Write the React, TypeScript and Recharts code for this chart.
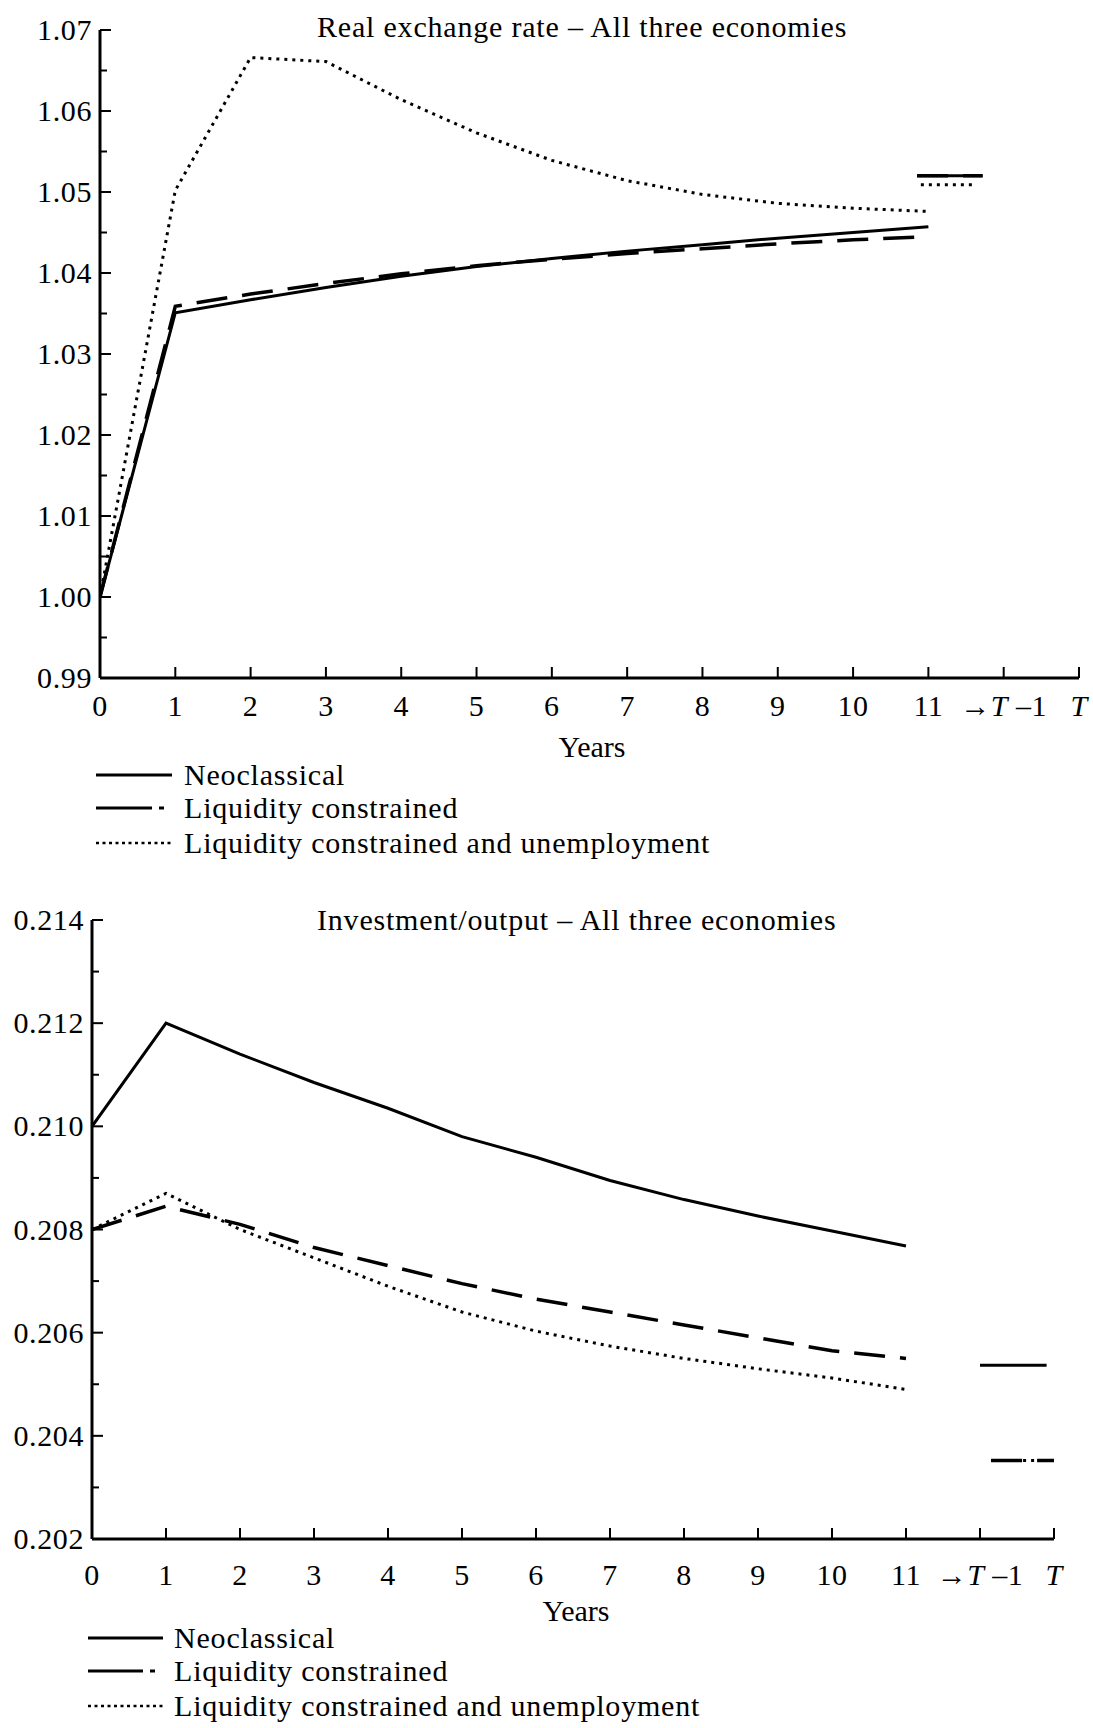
import React from 'react';
import { LineChart, Line, XAxis, YAxis } from 'recharts';

// ---------- shared axis data ----------
const yearTicks = [0, 1, 2, 3, 4, 5, 6, 7, 8, 9, 10, 11, 12, 13];
const yearLabels = ['0', '1', '2', '3', '4', '5', '6', '7', '8', '9', '10', '11', '→T –1', 'T'];
const years = [0, 1, 2, 3, 4, 5, 6, 7, 8, 9, 10, 11];

// ---------- Real exchange rate ----------
const rerNeo = [1.0, 1.0351, 1.0367, 1.0382, 1.0396, 1.0408, 1.0418, 1.0427, 1.0435, 1.0443, 1.045, 1.0457];
const rerLiq = [1.0, 1.0359, 1.0374, 1.0387, 1.0399, 1.0409, 1.0417, 1.0424, 1.043, 1.0436, 1.0441, 1.0445];
const rerLiqU = [1.0, 1.0502, 1.0666, 1.0661, 1.0614, 1.0573, 1.0539, 1.0514, 1.0497, 1.0486, 1.048, 1.0476];
// terminal (T-1 -> T) values, at the x positions where they are drawn
const rerTermX = [10.85, 11.72];
const rerTermXU = [10.9, 11.58];
const rerTermNeo = 1.052;
const rerTermLiq = 1.052;
const rerTermLiqU = 1.0509;
const rerTicks = [0.99, 0.995, 1.0, 1.005, 1.01, 1.015, 1.02, 1.025, 1.03, 1.035, 1.04, 1.045, 1.05, 1.055, 1.06, 1.065, 1.07];

// ---------- Investment / output ----------
const ioNeo = [0.21, 0.212, 0.2114, 0.21085, 0.21035, 0.2098, 0.2094, 0.20895, 0.20858, 0.20826, 0.20797, 0.20768];
const ioLiq = [0.208, 0.20845, 0.2081, 0.20765, 0.2073, 0.20695, 0.20665, 0.2064, 0.20615, 0.2059, 0.20565, 0.2055];
const ioLiqU = [0.208, 0.2087, 0.208, 0.20745, 0.2069, 0.2064, 0.20603, 0.20574, 0.2055, 0.2053, 0.20512, 0.2049];
const ioTermX = [12.0, 12.9];
const ioTermXL = [12.15, 13.0];
const ioTermNeo = 0.20537;
const ioTermLiq = 0.20352;
const ioTermLiqU = 0.20352;
const ioTicks = [0.202, 0.203, 0.204, 0.205, 0.206, 0.207, 0.208, 0.209, 0.21, 0.211, 0.212, 0.213, 0.214];

const legendLabels = ['Neoclassical', 'Liquidity constrained', 'Liquidity constrained and unemployment'];

const FONT = '"Liberation Serif", "Times New Roman", serif';
const FS = 30;

const rerRows = years.map((x, i) => ({ x, neo: rerNeo[i], liq: rerLiq[i], liqU: rerLiqU[i] }));
const ioRows = years.map((x, i) => ({ x, neo: ioNeo[i], liq: ioLiq[i], liqU: ioLiqU[i] }));
const seg = (xs: number[], v: number) => xs.map((x) => ({ x, v }));

const makeXTick = (labelOffset: number) => (p: any) => {
  const { x, y, payload } = p;
  const idx = yearTicks.indexOf(payload.value);
  const label = idx >= 0 ? yearLabels[idx] : String(payload.value);
  const parts = label.split(/(T)/).filter((s) => s.length > 0);
  return (
    <g>
      <line x1={x} y1={y} x2={x} y2={y - 11} stroke="#000" strokeWidth={2} />
      <text x={x} y={y + labelOffset} textAnchor="middle" fontFamily={FONT} fontSize={FS} fill="#000" letterSpacing={0.5}>
        {parts.map((s, i) => (
          <tspan key={i} fontStyle={s === 'T' ? 'italic' : 'normal'}>
            {s}
          </tspan>
        ))}
      </text>
    </g>
  );
};
const rerXTick = makeXTick(38);
const ioXTick = makeXTick(46);

const makeYTick = (decimals: number, isMajor: (v: number) => boolean) => (p: any) => {
  const { x, y, payload } = p;
  const v = payload.value as number;
  const major = isMajor(v);
  return (
    <g>
      <line x1={x} y1={y} x2={x + (major ? 11 : 7)} y2={y} stroke="#000" strokeWidth={2} />
      {major && (
        <text x={x - 8} y={y + 10} textAnchor="end" fontFamily={FONT} fontSize={FS} fill="#000" letterSpacing={0.6}>
          {v.toFixed(decimals)}
        </text>
      )}
    </g>
  );
};

const rerYTick = makeYTick(2, (v) => Math.round(v * 1000) % 10 === 0);
const ioYTick = makeYTick(3, (v) => Math.round(v * 1000) % 2 === 0);

const SOLID = { stroke: '#000', strokeWidth: 3 };
const DASHED = { stroke: '#000', strokeWidth: 3.5, strokeDasharray: '31 15' };
const DOTTED = { stroke: '#000', strokeWidth: 3, strokeDasharray: '3 5' };

function Legend({ top, left, textLeft, lineLen }: { top: number; left: number; textLeft: number; lineLen: number }) {
  const lineYs = [0, 33, 68];
  const textYs = [10, 43, 78];
  return (
    <svg style={{ position: 'absolute', left: 0, top: top - 20, overflow: 'visible' }} width={1093} height={110}>
      <g transform="translate(0,20)">
        <line x1={left} x2={left + lineLen} y1={lineYs[0]} y2={lineYs[0]} stroke="#000" strokeWidth={3} />
        <line x1={left} x2={left + lineLen - 20} y1={lineYs[1]} y2={lineYs[1]} stroke="#000" strokeWidth={3} />
        <line x1={left + lineLen - 13} x2={left + lineLen - 8} y1={lineYs[1]} y2={lineYs[1]} stroke="#000" strokeWidth={3} />
        <line x1={left} x2={left + lineLen} y1={lineYs[2]} y2={lineYs[2]} stroke="#000" strokeWidth={2.5} strokeDasharray="3 3.5" />
        {legendLabels.map((t, i) => (
          <text key={t} x={textLeft} y={textYs[i]} fontFamily={FONT} fontSize={FS} fill="#000" letterSpacing={0.8}>
            {t}
          </text>
        ))}
      </g>
    </svg>
  );
}

function Title({ text, left, baseline }: { text: string; left: number; baseline: number }) {
  return (
    <div
      style={{
        position: 'absolute',
        left,
        top: baseline - 25,
        fontFamily: FONT,
        fontSize: FS,
        lineHeight: '30px',
        letterSpacing: 0.8,
        whiteSpace: 'nowrap',
        color: '#000',
      }}
    >
      {text}
    </div>
  );
}

function CenterText({ text, cx, baseline }: { text: string; cx: number; baseline: number }) {
  return (
    <div
      style={{
        position: 'absolute',
        left: cx - 100,
        width: 200,
        textAlign: 'center',
        top: baseline - 25,
        fontFamily: FONT,
        fontSize: FS,
        lineHeight: '30px',
        whiteSpace: 'nowrap',
        color: '#000',
      }}
    >
      {text}
    </div>
  );
}

export default function App() {
  return (
    <div style={{ position: 'relative', width: 1093, height: 1728, background: '#fff', overflow: 'hidden' }}>
      <style>{`body{margin:0;background:#fff;}`}</style>

      {/* ----- Real exchange rate ----- */}
      <Title text="Real exchange rate – All three economies" left={317} baseline={37} />
      <div style={{ position: 'absolute', left: 0, top: 0 }}>
        <LineChart width={1093} height={738} data={rerRows} margin={{ top: 30, right: 14, left: 10, bottom: 0 }}>
          <XAxis
            type="number"
            dataKey="x"
            domain={[0, 13]}
            ticks={yearTicks}
            interval={0}
            height={60}
            tickSize={0}
            tickMargin={0}
            tickLine={false}
            axisLine={{ stroke: '#000', strokeWidth: 3 }}
            tick={rerXTick}
            allowDataOverflow
          />
          <YAxis
            type="number"
            domain={[0.99, 1.07]}
            ticks={rerTicks}
            interval={0}
            width={90}
            tickSize={0}
            tickMargin={0}
            tickLine={false}
            axisLine={{ stroke: '#000', strokeWidth: 3 }}
            tick={rerYTick}
            allowDataOverflow
          />
          <Line dataKey="liqU" {...DOTTED} dot={false} isAnimationActive={false} />
          <Line dataKey="liq" {...DASHED} dot={false} isAnimationActive={false} />
          <Line dataKey="neo" {...SOLID} dot={false} isAnimationActive={false} />
          <Line data={seg(rerTermX, rerTermLiq)} dataKey="v" {...DASHED} dot={false} isAnimationActive={false} />
          <Line data={seg(rerTermX, rerTermNeo)} dataKey="v" {...SOLID} dot={false} isAnimationActive={false} />
          <Line data={seg(rerTermXU, rerTermLiqU)} dataKey="v" {...DOTTED} dot={false} isAnimationActive={false} />
        </LineChart>
      </div>
      <CenterText text="Years" cx={592} baseline={757} />
      <Legend top={775} left={96} textLeft={184} lineLen={76} />

      {/* ----- Investment / output ----- */}
      <Title text="Investment/output – All three economies" left={317} baseline={930} />
      <div style={{ position: 'absolute', left: 0, top: 880 }}>
        <LineChart width={1093} height={719} data={ioRows} margin={{ top: 40, right: 39, left: 10, bottom: 0 }}>
          <XAxis
            type="number"
            dataKey="x"
            domain={[0, 13]}
            ticks={yearTicks}
            interval={0}
            height={60}
            tickSize={0}
            tickMargin={0}
            tickLine={false}
            axisLine={{ stroke: '#000', strokeWidth: 3 }}
            tick={ioXTick}
            allowDataOverflow
          />
          <YAxis
            type="number"
            domain={[0.202, 0.214]}
            ticks={ioTicks}
            interval={0}
            width={82}
            tickSize={0}
            tickMargin={0}
            tickLine={false}
            axisLine={{ stroke: '#000', strokeWidth: 3 }}
            tick={ioYTick}
            allowDataOverflow
          />
          <Line dataKey="liqU" {...DOTTED} dot={false} isAnimationActive={false} />
          <Line dataKey="liq" {...DASHED} dot={false} isAnimationActive={false} />
          <Line dataKey="neo" {...SOLID} dot={false} isAnimationActive={false} />
          <Line data={seg(ioTermX, ioTermNeo)} dataKey="v" {...SOLID} dot={false} isAnimationActive={false} />
          <Line data={seg(ioTermXL, ioTermLiq)} dataKey="v" {...DASHED} dot={false} isAnimationActive={false} />
          <Line data={seg(ioTermXL, ioTermLiqU)} dataKey="v" {...DOTTED} dot={false} isAnimationActive={false} />
        </LineChart>
      </div>
      <CenterText text="Years" cx={576} baseline={1621} />
      <Legend top={1638} left={88} textLeft={174} lineLen={75} />
    </div>
  );
}
